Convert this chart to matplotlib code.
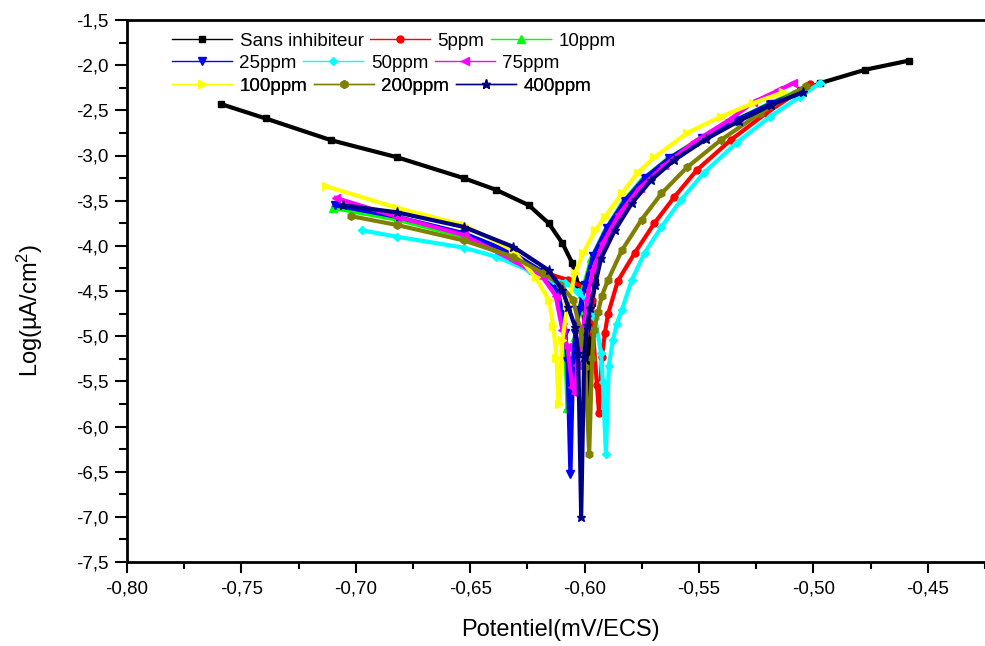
import matplotlib
matplotlib.use("Agg")
import matplotlib.pyplot as plt
from matplotlib.lines import Line2D

plt.rcParams['font.family'] = ['Liberation Sans', 'DejaVu Sans']
plt.rcParams['mathtext.fontset'] = 'custom'
plt.rcParams['mathtext.rm'] = 'Liberation Sans'
plt.rcParams['mathtext.it'] = 'Liberation Sans'

# ---------------- data ----------------
labels = ["Sans inhibiteur", "5ppm", "10ppm", "25ppm", "50ppm", "75ppm",
          "100ppm", "200ppm", "400ppm"]

E_sans = [-0.759, -0.7394, -0.7109, -0.6819, -0.6529, -0.6387, -0.6244, -0.6157, -0.6097,
          -0.6054, -0.6028, -0.6006, -0.5993, -0.5984, -0.5976, -0.5967, -0.5954, -0.5941,
          -0.5881, -0.5811, -0.5725, -0.5621, -0.5478, -0.5336, -0.5189, -0.5080, -0.4972,
          -0.4773, -0.4583]
L_sans = [-2.43, -2.59, -2.83, -3.02, -3.25, -3.38, -3.55, -3.75, -3.97,
          -4.19, -4.43, -4.71, -5.15, -5.69, -5.04, -4.63, -4.40, -4.12,
          -3.80, -3.50, -3.25, -3.03, -2.81, -2.62, -2.44, -2.32, -2.20,
          -2.05, -1.95]

E_5 = [-0.7079, -0.6819, -0.6529, -0.6313, -0.6183, -0.6071, -0.5997, -0.5967, -0.5963,
       -0.5946, -0.5937, -0.5924, -0.5911, -0.5898, -0.5855, -0.5781, -0.5695, -0.5608,
       -0.5509, -0.5362, -0.5206, -0.5033, -0.5016]
L_5 = [-3.56, -3.69, -3.87, -4.10, -4.29, -4.38, -4.47, -4.60, -4.97,
       -5.54, -5.85, -5.23, -4.96, -4.76, -4.39, -4.08, -3.75, -3.46,
       -3.16, -2.83, -2.53, -2.24, -2.21]

E_10 = [-0.7100, -0.6819, -0.6529, -0.6313, -0.6183, -0.6119, -0.6093, -0.6084, -0.6075,
        -0.6062, -0.6054, -0.6041, -0.6023, -0.6002, -0.5971, -0.5911, -0.5837, -0.5751,
        -0.5643, -0.5500, -0.5349, -0.5197, -0.5046]
L_10 = [-3.58, -3.71, -3.90, -4.14, -4.32, -4.49, -4.82, -5.18, -5.80,
        -5.41, -5.23, -5.01, -4.71, -4.43, -4.14, -3.83, -3.53, -3.27,
        -3.05, -2.82, -2.62, -2.43, -2.26]

E_25 = [-0.7092, -0.6819, -0.6529, -0.6313, -0.6183, -0.6119, -0.6093, -0.6084, -0.6075,
        -0.6062, -0.6050, -0.6041, -0.6023, -0.5997, -0.5963, -0.5902, -0.5824, -0.5738,
        -0.5630, -0.5487, -0.5340, -0.5189, -0.5055]
L_25 = [-3.55, -3.68, -3.86, -4.08, -4.29, -4.49, -4.77, -4.97, -5.28,
        -6.53, -5.29, -4.97, -4.71, -4.43, -4.11, -3.80, -3.50, -3.25,
        -3.03, -2.81, -2.61, -2.43, -2.29]

E_50 = [-0.6971, -0.6819, -0.6529, -0.6387, -0.6244, -0.6140, -0.6084, -0.6028, -0.5984,
        -0.5954, -0.5928, -0.5920, -0.5907, -0.5894, -0.5876, -0.5859, -0.5837, -0.5794,
        -0.5738, -0.5664, -0.5578, -0.5478, -0.5336, -0.5189, -0.5059, -0.4972]
L_50 = [-3.83, -3.90, -4.02, -4.12, -4.27, -4.38, -4.41, -4.51, -4.63,
        -4.80, -5.19, -5.51, -6.30, -5.33, -5.04, -4.86, -4.71, -4.38,
        -4.08, -3.79, -3.49, -3.19, -2.86, -2.57, -2.35, -2.20]

E_75 = [-0.7087, -0.6819, -0.6529, -0.6313, -0.6183, -0.6127, -0.6097, -0.6075, -0.6054,
        -0.6041, -0.6032, -0.6019, -0.6006, -0.5989, -0.5963, -0.5920, -0.5850, -0.5760,
        -0.5651, -0.5522, -0.5370, -0.5262, -0.5154, -0.5089]
L_75 = [-3.47, -3.68, -3.88, -4.16, -4.35, -4.55, -4.93, -5.12, -5.56,
        -5.63, -5.32, -5.04, -4.90, -4.60, -4.27, -3.97, -3.65, -3.36,
        -3.11, -2.85, -2.61, -2.41, -2.28, -2.20]

E_100 = [-0.7131, -0.6819, -0.6529, -0.6313, -0.6214, -0.6157, -0.6136, -0.6123, -0.6114,
         -0.6097, -0.6075, -0.6041, -0.6006, -0.5954, -0.5911, -0.5837, -0.5768, -0.5695,
         -0.5552, -0.5405, -0.5262, -0.5132]
L_100 = [-3.34, -3.58, -3.77, -4.05, -4.35, -4.60, -4.89, -5.24, -5.75,
         -5.04, -4.66, -4.30, -4.08, -3.83, -3.68, -3.42, -3.19, -3.02,
         -2.75, -2.57, -2.42, -2.30]

E_200 = [-0.7023, -0.6819, -0.6529, -0.6313, -0.6183, -0.6106, -0.6050, -0.6019, -0.6010,
         -0.5997, -0.5980, -0.5967, -0.5958, -0.5941, -0.5924, -0.5898, -0.5837, -0.5751,
         -0.5664, -0.5552, -0.5405, -0.5232, -0.5033]
L_200 = [-3.67, -3.77, -3.94, -4.12, -4.30, -4.43, -4.60, -4.93, -5.07,
         -5.34, -6.30, -5.24, -4.93, -4.73, -4.55, -4.38, -4.05, -3.71,
         -3.42, -3.13, -2.83, -2.53, -2.23]

E_400 = [-0.7057, -0.6819, -0.6529, -0.6313, -0.6157, -0.6097, -0.6071, -0.6041, -0.6028,
         -0.6015, -0.6002, -0.5989, -0.5976, -0.5954, -0.5928, -0.5868, -0.5794, -0.5708,
         -0.5608, -0.5470, -0.5327, -0.5185, -0.5046]
L_400 = [-3.55, -3.63, -3.79, -4.01, -4.27, -4.49, -4.68, -4.90, -5.19,
         -7.00, -5.23, -4.88, -4.69, -4.43, -4.14, -3.83, -3.53, -3.27,
         -3.05, -2.82, -2.62, -2.44, -2.30]

x_ticks = [-0.80, -0.75, -0.70, -0.65, -0.60, -0.55, -0.50, -0.45]
x_ticklabels = ["-0,80", "-0,75", "-0,70", "-0,65", "-0,60", "-0,55", "-0,50", "-0,45"]
y_ticks = [-7.5, -7.0, -6.5, -6.0, -5.5, -5.0, -4.5, -4.0, -3.5, -3.0, -2.5, -2.0, -1.5]
y_ticklabels = ["-7,5", "-7,0", "-6,5", "-6,0", "-5,5", "-5,0", "-4,5", "-4,0",
                "-3,5", "-3,0", "-2,5", "-2,0", "-1,5"]

# ---------------- styling ----------------
series = [(E_sans, L_sans), (E_5, L_5), (E_10, L_10), (E_25, L_25), (E_50, L_50),
          (E_75, L_75), (E_100, L_100), (E_200, L_200), (E_400, L_400)]
colors = ["#000000", "#FF0000", "#00FF00", "#0000FF", "#00FFFF", "#FF00FF",
          "#FFFF00", "#808000", "#000080"]
markers = ["s", "o", "^", "v", "D", "<", ">", "h", "*"]
msizes = [4.5, 5, 5.5, 5.5, 4.5, 5.5, 5.5, 5.5, 6.5]

fig = plt.figure(figsize=(9.85, 6.46), dpi=100)
ax = fig.add_axes([127 / 985, 1 - 562 / 646, 1 - 127 / 985, (562 - 20) / 646])

for (E, L), c, m, ms in zip(series, colors, markers, msizes):
    ax.plot(E, L, color=c, lw=3.0, marker=m, ms=ms, mec=c, mfc=c)

ax.set_xlim(-0.80, -0.80 + 858 / 2312)
ax.set_ylim(-7.5, -1.5)
ax.set_xticks(x_ticks)
ax.set_xticklabels(x_ticklabels)
ax.set_yticks(y_ticks)
ax.set_yticklabels(y_ticklabels)
ax.set_xticks([v + 0.025 for v in x_ticks], minor=True)
ax.set_yticks([v + 0.25 for v in y_ticks[:-1]], minor=True)

ax.spines['right'].set_visible(False)
for s in ['left', 'bottom', 'top']:
    ax.spines[s].set_linewidth(2.0)

ax.tick_params(axis='x', which='major', direction='out', length=8, width=1.5, pad=5, labelsize=13.5)
ax.tick_params(axis='x', which='minor', direction='out', length=5, width=1.5)
ax.tick_params(axis='y', which='major', direction='out', length=9, width=1.5, pad=4, labelsize=13.5)
ax.tick_params(axis='y', which='minor', direction='out', length=6, width=1.5)

ax.set_xlabel("Potentiel(mV/ECS)", fontsize=17)
ax.set_ylabel("Log(µA/cm$^{2}$)", fontsize=17)
ax.xaxis.set_label_coords(0.505, -0.105)
ax.yaxis.set_label_coords(-0.096, 0.465)

# legend: three rows, each a separate legend so entries flow as in the reference
handles = [Line2D([], [], color=c, lw=1, marker=m, ms=ms, mec=c, mfc=c)
           for c, m, ms in zip(colors, markers, msizes)]
row_y = [41, 63, 86]
for r in range(3):
    leg = ax.legend(handles[3 * r:3 * r + 3], labels[3 * r:3 * r + 3], ncol=3,
                    loc='center left', bbox_to_anchor=(172 / 985, 1 - row_y[r] / 646),
                    bbox_transform=fig.transFigure, frameon=False, fontsize=13.5,
                    handlelength=3.2, handletextpad=0.4, columnspacing=0.35,
                    borderpad=0, borderaxespad=0, numpoints=1)
    ax.add_artist(leg)

fig.savefig("out.png", dpi=100)
